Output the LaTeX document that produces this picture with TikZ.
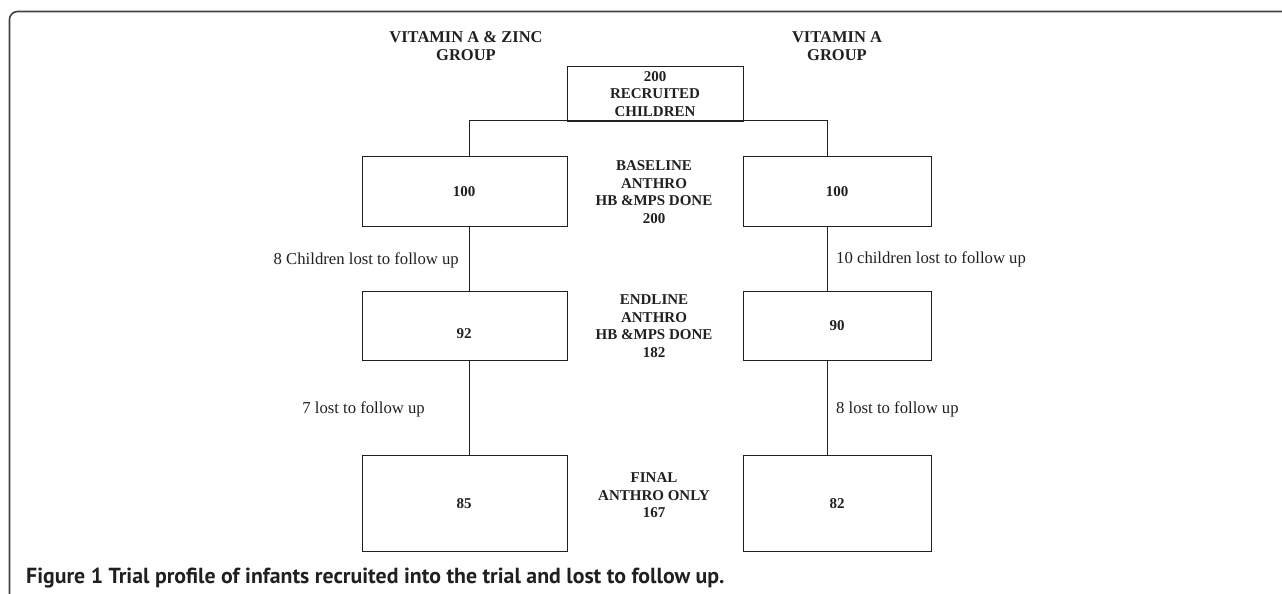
\documentclass[tikz,border=0pt]{standalone}
\usepackage{fontspec}
\setmainfont{Liberation Serif}
\newfontfamily\capfont{PT Sans}
\usetikzlibrary{calc}
\definecolor{ink}{HTML}{231F20}
\begin{document}
\begin{tikzpicture}[x=1pt,y=-1pt,
  box/.style={draw=ink,line width=1pt,rectangle,inner sep=0pt},
  conn/.style={draw=ink,line width=1pt},
  num/.style={font=\fontsize{15}{17.5}\selectfont\bfseries,text=ink,inner sep=0pt},
  mid/.style={font=\fontsize{15}{17.5}\selectfont\bfseries,text=ink,align=center,inner sep=0pt},
  head/.style={font=\fontsize{16.5}{18}\selectfont\bfseries,text=ink,align=center,inner sep=0pt},
  lost/.style={font=\fontsize{16.7}{18}\selectfont,text=ink,inner sep=0pt},
  frame/.style={draw=ink!85,line width=1.6pt,rounded corners=8pt}
]
\useasboundingbox (0,0) rectangle (1282,594);
% frame
\draw[frame] (9.5,600) -- (9.5,11.5) -- (1290,11.5);
% headings
\node[head] (hl) at (466,46) {VITAMIN A \& ZINC\\GROUP};
\node[head] (hr) at (837,46) {VITAMIN A\\GROUP};
% top box
\node[box,minimum width=176pt,minimum height=54pt,mid] (T) at (655,94) {200\\RECRUITED\\CHILDREN};
% boxes
\node[box,minimum width=205pt,minimum height=70pt] (L1) at (464.5,191) {};
\node[box,minimum width=188pt,minimum height=70pt] (R1) at (837,191) {};
\node[box,minimum width=205pt,minimum height=69pt] (L2) at (464.5,325.5) {};
\node[box,minimum width=188pt,minimum height=69pt] (R2) at (837,325.5) {};
\node[box,minimum width=205pt,minimum height=96pt] (L3) at (464.5,503) {};
\node[box,minimum width=188pt,minimum height=96pt] (R3) at (837,503) {};
% numbers
\node[num] (nL1) at (464,192) {100};
\node[num] (nR1) at (837,192) {100};
\node[num] (nL2) at (464,334) {92};
\node[num] (nR2) at (837,326) {90};
\node[num] (nL3) at (464,504) {85};
\node[num] (nR3) at (837,504) {82};
% middle texts
\node[mid] (m1) at (654,192) {BASELINE\\ANTHRO\\HB \&MPS DONE\\200};
\node[mid] (m2) at (654,326) {ENDLINE\\ANTHRO\\HB \&MPS DONE\\182};
\node[mid] (m3) at (654,495.5) {FINAL\\ANTHRO ONLY\\167};
% connectors
\coordinate (bl) at (469,120.5);
\coordinate (br) at (827,120.5);
\draw[conn] (L1.north -| bl) -- (bl) -- (br) -- (R1.north -| br);
\draw[conn] (L1.south -| bl) -- (L2.north -| bl);
\draw[conn] (L2.south -| bl) -- (L3.north -| bl);
\draw[conn] (R1.south -| br) -- (R2.north -| br);
\draw[conn] (R2.south -| br) -- (R3.north -| br);
% lost labels
\node[lost,anchor=east] (a1) at (459,260) {8 Children lost to follow up};
\node[lost,anchor=east] (a2) at (425,409) {7 lost to follow up};
\node[lost,anchor=west] (b1) at (836,259) {10 children lost to follow up};
\node[lost,anchor=west] (b2) at (836,409) {8 lost to follow up};
% caption
\node[anchor=base west,inner sep=0pt,text=ink,font=\capfont\bfseries\fontsize{21.8}{24}\selectfont] (cap) at (26,583) {Figure 1 Trial profile of infants recruited into the trial and lost to follow up.};
\end{tikzpicture}
\end{document}
